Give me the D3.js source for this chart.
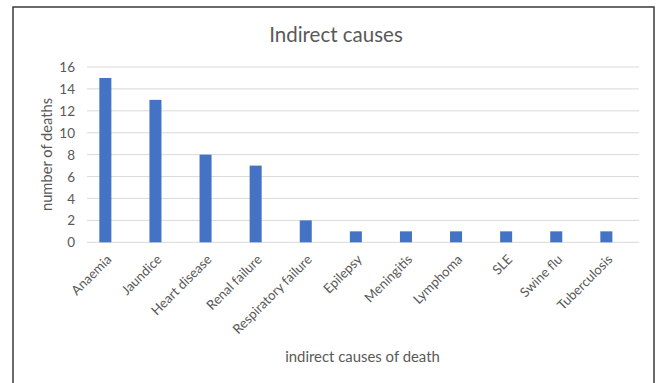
<!DOCTYPE html>
<html>
<head>
<meta charset="utf-8">
<script src="https://cdn.jsdelivr.net/npm/d3@7/dist/d3.min.js"></script>
<style>
  html, body { margin: 0; padding: 0; background: #fff; }
  svg { display: block; }
  text { font-family: Lato, "Open Sans", sans-serif; fill: #595959; }
</style>
</head>
<body>
<svg id="chart" width="660" height="383"></svg>
<script>
// Deaths by indirect cause
const causes = ["Anaemia", "Jaundice", "Heart disease", "Renal failure", "Respiratory failure",
                "Epilepsy", "Meningitis", "Lymphoma", "SLE", "Swine flu", "Tuberculosis"];
const deaths = [15, 13, 8, 7, 2, 1, 1, 1, 1, 1, 1];
const yTicks = [0, 2, 4, 6, 8, 10, 12, 14, 16];

const chartTitle = "Indirect causes";
const xTitle = "indirect causes of death";
const yTitle = "number of deaths";

const svg = d3.select("#chart");

// outer frame
svg.append("rect")
  .attr("x", 13).attr("y", 7)
  .attr("width", 641).attr("height", 400)
  .attr("fill", "none")
  .attr("stroke", "#3a3a3a")
  .attr("stroke-width", 1.5);

const plot = { left: 87, right: 639, top: 67, bottom: 242.3 };

const y = d3.scaleLinear().domain([0, 16]).range([plot.bottom, plot.top]);
const x = d3.scaleBand().domain(causes).range([80.3, 631.4]).paddingInner(0.76).paddingOuter(0.38);

// gridlines
svg.append("g")
  .selectAll("line")
  .data(yTicks)
  .join("line")
  .attr("x1", plot.left).attr("x2", plot.right)
  .attr("y1", d => y(d)).attr("y2", d => y(d))
  .attr("stroke", "#d9d9d9")
  .attr("stroke-width", 1);

// y axis labels
const yAxis = d3.axisLeft(y).tickValues(yTicks).tickSize(0).tickPadding(0);
const gy = svg.append("g").attr("transform", "translate(75,0)").call(yAxis);
gy.select(".domain").remove();
gy.selectAll("text")
  .attr("font-size", 13.5)
  .attr("font-family", "Lato, sans-serif")
  .attr("fill", "#595959")
  .attr("dy", "0.34em");

// bars
svg.append("g")
  .selectAll("rect")
  .data(causes.map((c, i) => ({ c, v: deaths[i] })))
  .join("rect")
  .attr("x", d => x(d.c))
  .attr("width", x.bandwidth())
  .attr("y", d => y(d.v))
  .attr("height", d => y(0) - y(d.v))
  .attr("fill", "#4472c4");

// x axis labels, rotated
const xAxis = d3.axisBottom(x).tickSize(0).tickPadding(0);
const gx = svg.append("g").attr("transform", `translate(0,${plot.bottom})`).call(xAxis);
gx.select(".domain").remove();
gx.selectAll(".tick text")
  .attr("font-size", 13.2)
  .attr("font-family", "Lato, sans-serif")
  .attr("fill", "#595959")
  .attr("text-anchor", "end")
  .attr("dy", null)
  .attr("y", 0)
  .attr("transform", "translate(7,18) rotate(-45)");

// titles
svg.append("text")
  .attr("x", 336).attr("y", 42)
  .attr("text-anchor", "middle")
  .attr("font-size", 20.5)
  .text(chartTitle);

svg.append("text")
  .attr("x", 362.5).attr("y", 361.5)
  .attr("text-anchor", "middle")
  .attr("font-size", 14.9)
  .text(xTitle);

svg.append("text")
  .attr("transform", "translate(52,154.5) rotate(-90)")
  .attr("text-anchor", "middle")
  .attr("font-size", 14.7)
  .text(yTitle);
</script>
</body>
</html>
